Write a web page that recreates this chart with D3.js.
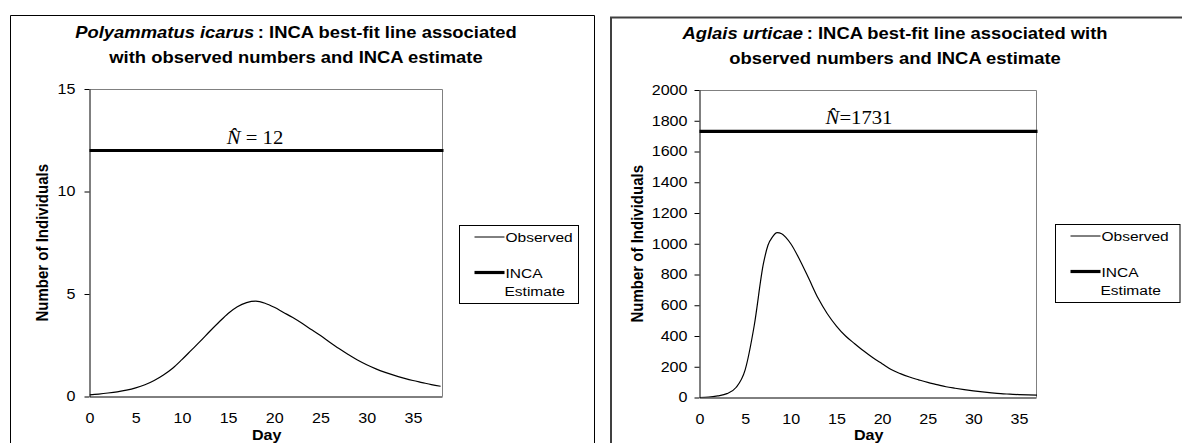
<!DOCTYPE html>
<html>
<head>
<meta charset="utf-8">
<script src="https://cdn.jsdelivr.net/npm/d3@7"></script>
<style>
  body { margin: 0; background: #fff; }
  svg { display: block; }
</style>
</head>
<body>
<svg id="chart" width="1182" height="443" font-family="'Liberation Sans', Arial, sans-serif"></svg>
<script>
// ---- data ----
const xTicks = [0, 5, 10, 15, 20, 25, 30, 35];

const icarusDays = [0,1,2,3,4,5,6,7,8,9,10,11,12,13,14,15,16,17,18,19,20,21,22,23,24,25,26,27,28,29,30,31,32,33,34,35,36,37,38];
const icarusObserved = [0.08,0.12,0.17,0.23,0.31,0.42,0.57,0.78,1.05,1.38,1.80,2.25,2.70,3.17,3.62,4.05,4.38,4.58,4.65,4.55,4.35,4.10,3.85,3.57,3.27,2.97,2.65,2.34,2.05,1.78,1.55,1.35,1.18,1.03,0.90,0.78,0.68,0.58,0.50];
const icarusEstimate = 12;
const icarusYTicks = [0, 5, 10, 15];

const urticaeDays = [0,1,2,3,4,5,6,7,7.5,8,8.5,9,9.5,10,11,12,13,14,15,16,17,18,19,20,21,22,23,24,25,26,27,28,29,30,31,32,33,34,35,36,37];
const urticaeObserved = [0,2,10,25,65,180,470,870,990,1045,1072,1065,1038,1000,893,770,645,545,465,400,350,302,258,220,182,155,133,115,98,84,70,60,51,43,36,30,25,22,19,17,16];
const urticaeEstimate = 1731;
const urticaeYTicks = [0,200,400,600,800,1000,1200,1400,1600,1800,2000];

const legendLabels = ['Observed', 'INCA', 'Estimate'];

// the source image is a bit wider than tall, so text is stretched sideways
const SX = 1.15;
const SERIF = '"Liberation Serif", "Times New Roman", serif';

const svg = d3.select('#chart');

function stretchedText(parent, x, y, anchor) {
  return parent.append('g')
    .attr('transform', `translate(${x},${y}) scale(${SX},1)`)
    .append('text')
    .attr('text-anchor', anchor || 'middle');
}

function drawPanel(p) {
  const g = svg.append('g');

  // outer chart frame (bottom runs off the picture)
  g.append('path')
    .attr('d', `M${p.frame[0]},470 V${p.frame[1]} H${p.frame[2]} V470`)
    .attr('fill', 'none')
    .attr('stroke', p.frameColor)
    .attr('stroke-width', p.frameWidth);

  // title
  const t1 = stretchedText(g, p.titleX, p.titleY[0])
    .attr('font-size', 16).attr('font-weight', 'bold').attr('fill', '#000');
  t1.append('tspan').attr('font-style', 'italic').text(p.species);
  t1.append('tspan').text(p.title1);
  stretchedText(g, p.titleX, p.titleY[1])
    .attr('font-size', 16).attr('font-weight', 'bold')
    .text(p.title2);

  const x = d3.scaleLinear().domain([0, p.xMax]).range([p.plot.left, p.plot.right]);
  const y = d3.scaleLinear().domain([0, p.yMax]).range([p.plot.bottom, p.plot.top]);

  // plot area border: grey top/right
  g.append('path')
    .attr('d', `M${p.plot.left},${p.plot.top + 0.5} H${p.plot.right + 0.5} V${p.plot.bottom}`)
    .attr('fill', 'none')
    .attr('stroke', '#808080')
    .attr('stroke-width', 1);

  // clip for the curve
  const clipId = 'clip-' + p.id;
  svg.append('clipPath').attr('id', clipId)
    .append('rect')
    .attr('x', p.plot.left).attr('y', p.plot.top - 5)
    .attr('width', p.plot.right - p.plot.left + 1)
    .attr('height', p.plot.bottom - p.plot.top + 5);

  // observed curve
  const line = d3.line()
    .x((d, i) => x(p.days[i]))
    .y(d => y(d))
    .curve(d3.curveMonotoneX);
  g.append('path')
    .datum(p.observed)
    .attr('clip-path', `url(#${clipId})`)
    .attr('d', line)
    .attr('fill', 'none')
    .attr('stroke', '#000')
    .attr('stroke-width', 1.2);

  // INCA estimate line
  g.append('line')
    .attr('x1', x(0)).attr('x2', p.plot.right + 1.5)
    .attr('y1', y(p.estimate)).attr('y2', y(p.estimate))
    .attr('stroke', '#000')
    .attr('stroke-width', 3.2);

  // N-hat label
  const nt = g.append('g')
    .attr('transform', `translate(${p.nLabel[0]},${p.nLabel[1]}) scale(${SX},1)`)
    .append('text')
    .attr('text-anchor', 'middle')
    .style('font-family', SERIF)
    .attr('font-size', 18);
  nt.append('tspan').attr('font-style', 'italic').text('N\u0302');
  nt.append('tspan').text(p.nSep + p.estimate);

  // y axis
  const yAxis = g.append('g')
    .attr('transform', `translate(${p.plot.left},0)`)
    .call(d3.axisLeft(y).tickValues(p.yTicks).tickFormat(d3.format('d'))
      .tickSize(5).tickPadding(8).tickSizeOuter(0));
  yAxis.select('.domain').attr('stroke', '#000');
  yAxis.selectAll('.tick line').attr('stroke', '#000');
  yAxis.selectAll('.tick text')
    .attr('font-size', 14)
    .style('font-family', '"Liberation Sans", Arial, sans-serif')
    .attr('fill', '#000')
    .attr('x', -p.yPad / SX)
    .attr('transform', `scale(${SX},1)`);

  // x axis (no tick marks)
  const xAxis = g.append('g')
    .attr('transform', `translate(0,${p.plot.bottom})`)
    .call(d3.axisBottom(x).tickValues(xTicks).tickSize(0).tickPadding(17).tickSizeOuter(0));
  xAxis.select('.domain').attr('stroke', '#000');
  xAxis.selectAll('.tick text')
    .attr('font-size', 14)
    .style('font-family', '"Liberation Sans", Arial, sans-serif')
    .attr('fill', '#000')
    .attr('transform', `scale(${SX},1)`);

  // axis titles
  stretchedText(g, (p.plot.left + p.plot.right) / 2 + 1, 440)
    .attr('font-size', 14).attr('font-weight', 'bold').text('Day');
  g.append('text')
    .attr('transform', `translate(${p.yLabelX},${(p.plot.top + p.plot.bottom) / 2}) rotate(-90) scale(1,${SX})`)
    .attr('text-anchor', 'middle')
    .attr('dy', '0.36em')
    .attr('font-size', 15)
    .attr('font-weight', 'bold')
    .text('Number of Individuals');

  // legend
  const L = p.legend;
  g.append('rect')
    .attr('x', L.x0).attr('y', L.y0)
    .attr('width', L.x1 - L.x0).attr('height', L.y1 - L.y0)
    .attr('fill', '#fff').attr('stroke', '#000').attr('stroke-width', 1);
  g.append('line')
    .attr('x1', L.x0 + 15).attr('x2', L.x0 + 45)
    .attr('y1', L.y0 + 11.5).attr('y2', L.y0 + 11.5)
    .attr('stroke', '#000').attr('stroke-width', 1);
  g.append('line')
    .attr('x1', L.x0 + 15).attr('x2', L.x0 + 45)
    .attr('y1', L.y0 + 47).attr('y2', L.y0 + 47)
    .attr('stroke', '#000').attr('stroke-width', 3.2);
  stretchedText(g, L.x0 + 46, L.y0 + 16.5, 'start').attr('font-size', 13.5).text(legendLabels[0]);
  stretchedText(g, L.x0 + 46, L.y0 + 52, 'start').attr('font-size', 13.5).text(legendLabels[1]);
  stretchedText(g, L.x0 + 45, L.y0 + 70.5, 'start').attr('font-size', 13.5).text(legendLabels[2]);
}

drawPanel({
  id: 'icarus',
  frame: [10.5, 15.5, 594.5], frameColor: '#000', frameWidth: 1,
  species: 'Polyammatus icarus', title1: '\u2009: INCA best-fit line associated',
  title2: 'with observed numbers and INCA estimate',
  titleX: 296, titleY: [37.5, 62.5],
  plot: { left: 89.5, right: 442, top: 89, bottom: 396.5 },
  xMax: 38.15, yMax: 15,
  days: icarusDays, observed: icarusObserved, estimate: icarusEstimate, yTicks: icarusYTicks,
  yPad: 14,
  nLabel: [255, 144], nSep: '  =  ',
  yLabelX: 41.5,
  legend: { x0: 459.5, y0: 225.5, x1: 578.5, y1: 303.5 }
});

drawPanel({
  id: 'urticae',
  frame: [611, 17.5, 1200], frameColor: '#404040', frameWidth: 2,
  species: 'Aglais urticae', title1: '\u2009: INCA best-fit line associated with',
  title2: 'observed numbers and INCA estimate',
  titleX: 895, titleY: [38.5, 63.5],
  plot: { left: 699.5, right: 1036, top: 90, bottom: 397.5 },
  xMax: 36.86, yMax: 2000,
  days: urticaeDays, observed: urticaeObserved, estimate: urticaeEstimate, yTicks: urticaeYTicks,
  yPad: 12,
  nLabel: [859, 123.5], nSep: '=',
  yLabelX: 637,
  legend: { x0: 1055.5, y0: 224.5, x1: 1180, y1: 302.5 }
});
</script>
</body>
</html>
